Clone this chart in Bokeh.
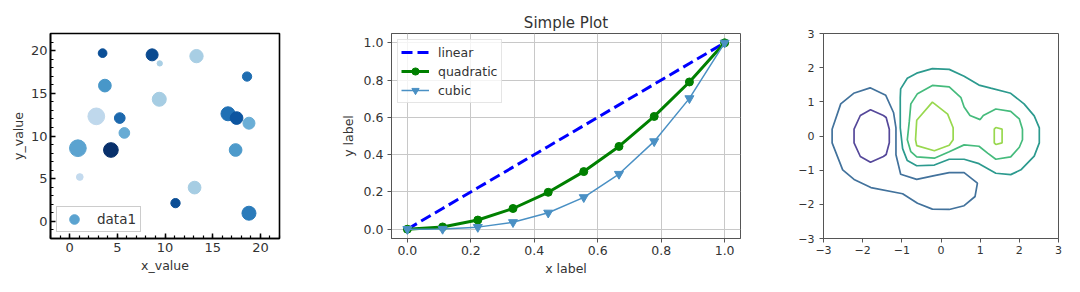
from bokeh.plotting import figure
from bokeh.layouts import row
from bokeh.models import (FixedTicker, Legend, LegendItem, PrintfTickFormatter, Range1d,
                          ColumnDataSource, CustomJSTickFormatter)
from bokeh.embed import file_html
from bokeh.resources import INLINE

FONT = "DejaVu Sans"
TXT = "#333333"

# ---------------- panel 1 data (scatter) ----------------
scatter_x = [3.46, 8.65, 9.45, 13.3, 18.6, 3.7, 9.4, 2.8, 5.26, 16.6,
             17.5, 18.8, 5.74, 0.87, 4.33, 17.4, 1.07, 13.1, 11.1, 18.8]
scatter_y = [19.7, 19.5, 18.5, 19.35, 16.96, 15.9, 14.3, 12.3, 12.1, 12.6,
             12.1, 11.5, 10.36, 8.57, 8.36, 8.36, 5.2, 3.96, 2.14, 0.96]
scatter_size = [8.7, 12, 5.3, 13.3, 9.3, 12.7, 14, 16.7, 10.7, 14,
                12.7, 12, 10.7, 16.7, 14.7, 12.7, 6.7, 12.7, 9.3, 14]
scatter_color = ["#0b4f97", "#0a4a90", "#a9cfe5", "#a8cee4", "#1f6db1",
                 "#4897c9", "#a6cde3", "#bfd8ec", "#1c68ad", "#2070b4",
                 "#0d55a0", "#6aaed6", "#67abd4", "#5ba3d0", "#08306b",
                 "#4d9acb", "#c3daee", "#a6cde3", "#0a4d95", "#2b7bba"]
scatter_ticks = [0, 5, 10, 15, 20]
scatter_minor = list(range(-2, 23))

# ---------------- panel 2 data (lines) ----------------
line_x = [0.0, 0.111, 0.222, 0.333, 0.444, 0.556, 0.667, 0.778, 0.889, 1.0]
linear_y = [0.0, 0.111, 0.222, 0.333, 0.444, 0.556, 0.667, 0.778, 0.889, 1.0]
quadratic_y = [0.0, 0.012, 0.049, 0.111, 0.198, 0.309, 0.444, 0.605, 0.790, 1.0]
cubic_y = [0.0, 0.001, 0.011, 0.037, 0.088, 0.171, 0.296, 0.471, 0.702, 1.0]
line_ticks = [0.0, 0.2, 0.4, 0.6, 0.8, 1.0]

# ---------------- panel 3 data (contour lines) ----------------
contour_xs = [
    [-1.8, -1.47, -1.4, -1.32, -1.32, -1.4, -1.47, -1.8, -2.06, -2.22, -2.22, -2.06],
    [-1.81, -1.41, -1.21, -1.15, -1.15, -1.03, -0.62, -0.17, 0.21, 0.59, 0.93, 0.87,
     0.59, 0.21, -0.22, -0.6, -0.98, -1.79, -2.22, -2.51, -2.78, -2.78, -2.56, -2.23],
    [-1.03, -0.86, -0.62, -0.22, 0.21, 0.59, 0.97, 1.27, 1.78, 2.12, 2.38, 2.51,
     2.51, 2.38, 2.04, 1.78, 1.4, 0.97, 0.59, 0.21, -0.17, -0.62, -0.86, -0.98,
     -1.04, -1.04],
    [-0.77, -0.6, -0.22, 0.21, 0.51, 0.59, 0.74, 1.0, 1.08, 1.4, 1.78, 2.0, 2.08,
     2.08, 2.0, 1.78, 1.4, 1.19, 0.97, 0.59, 0.21, -0.17, -0.62, -0.77, -0.86,
     -0.81],
    [-0.22, 0.17, 0.31, 0.31, 0.21, -0.17, -0.62, -0.65, -0.62],
    [1.36, 1.4, 1.56, 1.56, 1.4, 1.36],
]
contour_ys = [
    [0.77, 0.6, 0.54, 0.2, -0.2, -0.54, -0.6, -0.77, -0.6, -0.2, 0.2, 0.6],
    [1.41, 1.19, 0.68, 0.24, -0.55, -1.12, -1.27, -1.16, -1.07, -1.07, -1.38, -1.77,
     -2.04, -2.15, -2.14, -1.97, -1.69, -1.51, -1.27, -0.99, -0.2, 0.2, 0.94, 1.25],
    [1.38, 1.69, 1.84, 1.97, 1.95, 1.75, 1.49, 1.4, 1.25, 0.94, 0.59, 0.24,
     -0.2, -0.59, -0.99, -1.13, -1.09, -0.81, -0.68, -0.68, -0.85, -0.87, -0.72,
     -0.37, 0.24, 1.12],
    [0.94, 1.24, 1.48, 1.44, 1.12, 0.85, 0.6, 0.48, 0.6, 0.79, 0.72, 0.5, 0.2,
     -0.11, -0.33, -0.61, -0.68, -0.5, -0.3, -0.26, -0.46, -0.65, -0.61, -0.46,
     -0.11, 0.42],
    [0.99, 0.64, 0.24, -0.11, -0.27, -0.43, -0.28, -0.11, 0.46],
    [0.2, 0.25, 0.2, -0.2, -0.25, -0.2],
]
contour_colors = ["#55489a", "#42729c", "#2c9a8e", "#45bb7c", "#98d84e", "#98d84e"]
contour_ticks = [-3, -2, -1, 0, 1, 2, 3]


def style_text(p, size):
    p.axis.major_label_text_font = FONT
    p.axis.major_label_text_font_size = size
    p.axis.major_label_text_color = TXT
    p.axis.axis_label_text_font = FONT
    p.axis.axis_label_text_font_style = "normal"
    p.axis.axis_label_text_color = TXT


# ---------------- panel 1 ----------------
p1 = figure(width=330, height=292, x_range=Range1d(-2, 22), y_range=Range1d(-2, 22),
            output_backend="svg", toolbar_location=None,
            min_border_left=50, min_border_right=51, min_border_top=18, min_border_bottom=50)
p1.grid.visible = False
p1.outline_line_color = "black"
p1.outline_line_width = 1.6
src1 = ColumnDataSource(dict(x=scatter_x, y=scatter_y, s=scatter_size, c=scatter_color))
r1 = p1.scatter("x", "y", size="s", fill_color="c", line_color="c", source=src1)
for ax in (p1.xaxis[0], p1.yaxis[0]):
    ax.ticker = FixedTicker(ticks=scatter_ticks, minor_ticks=scatter_minor)
    ax.major_tick_in = 5
    ax.major_tick_out = 0
    ax.minor_tick_in = 3
    ax.minor_tick_out = 0
    ax.axis_line_color = "black"
    ax.axis_line_width = 1.6
    ax.major_tick_line_width = 1.5
    ax.minor_tick_line_width = 1.2
    ax.major_tick_line_color = "black"
    ax.minor_tick_line_color = "black"
style_text(p1, "13px")
p1.axis.axis_label_text_font_size = "12.5px"
p1.xaxis.axis_label = "x_value"
p1.yaxis.axis_label = "y_value"
p1.xaxis.major_label_standoff = 4
p1.yaxis.major_label_standoff = 3
p1.xaxis.axis_label_standoff = 3
p1.yaxis.axis_label_standoff = 2
leg1 = Legend(items=[LegendItem(label="data1", renderers=[r1], index=13)],
              location="bottom_left", margin=6, padding=dict(left=0, right=4, top=0, bottom=0),
              glyph_width=34, glyph_height=24, label_height=20, label_standoff=6,
              label_text_font=FONT, label_text_font_size="13.5px", label_text_color=TXT,
              border_line_color="#999999", border_line_width=1,
              background_fill_color="white", background_fill_alpha=0.8)
p1.add_layout(leg1)

# ---------------- panel 2 ----------------
p2 = figure(width=430, height=292, x_range=Range1d(-0.05, 1.05), y_range=Range1d(-0.05, 1.05),
            output_backend="svg", toolbar_location=None, title="Simple Plot",
            min_border_left=61, min_border_right=20, min_border_top=33, min_border_bottom=54)
p2.title.align = "center"
p2.title.text_font = FONT
p2.title.text_font_size = "15px"
p2.title.text_font_style = "normal"
p2.title.text_color = TXT
p2.title.standoff = 4
p2.outline_line_color = "#555555"
p2.outline_line_width = 1
p2.grid.grid_line_color = "#c8c8c8"
p2.grid.grid_line_width = 1
for ax in (p2.xaxis[0], p2.yaxis[0]):
    ax.ticker = FixedTicker(ticks=line_ticks, minor_ticks=[])
    ax.formatter = PrintfTickFormatter(format="%.1f")
    ax.major_tick_in = 0
    ax.major_tick_out = 4
    ax.axis_line_color = "#555555"
    ax.major_tick_line_color = "#555555"
style_text(p2, "12.5px")
p2.axis.axis_label_text_font_size = "12.5px"
p2.xaxis.axis_label = "x label"
p2.yaxis.axis_label = "y label"
p2.xaxis.major_label_standoff = 3
p2.yaxis.major_label_standoff = 4
p2.xaxis.axis_label_standoff = 3
p2.yaxis.axis_label_standoff = 5

r_lin = p2.line(line_x, linear_y, line_color="blue", line_width=3, line_dash="11 5")
r_q_l = p2.line(line_x, quadratic_y, line_color="green", line_width=3)
r_q_m = p2.scatter(line_x, quadratic_y, size=8, fill_color="green", line_color="green")
r_c_l = p2.line(line_x, cubic_y, line_color="#4a90c4", line_width=1.5)
r_c_m = p2.scatter(line_x, cubic_y, marker="inverted_triangle", size=9,
                   fill_color="#4a90c4", line_color="#4a90c4")
leg2 = Legend(items=[LegendItem(label="linear", renderers=[r_lin]),
                     LegendItem(label="quadratic", renderers=[r_q_l, r_q_m]),
                     LegendItem(label="cubic", renderers=[r_c_l, r_c_m])],
              location="top_left", margin=6, padding=3, spacing=1,
              glyph_width=28, glyph_height=18, label_height=18, label_standoff=9,
              label_text_font=FONT, label_text_font_size="12.5px", label_text_color=TXT,
              border_line_color="#cccccc", background_fill_color="white",
              background_fill_alpha=0.8)
p2.add_layout(leg2)

# ---------------- panel 3 ----------------
p3 = figure(width=320, height=292, x_range=Range1d(-3, 3), y_range=Range1d(-3, 3),
            output_backend="svg", toolbar_location=None,
            min_border_left=63, min_border_right=22, min_border_top=28, min_border_bottom=35)
p3.grid.visible = False
p3.outline_line_color = "#555555"
p3.outline_line_width = 1
minus_fmt = CustomJSTickFormatter(code="return tick < 0 ? '\\u2212' + String(-tick) : String(tick);")
for ax in (p3.xaxis[0], p3.yaxis[0]):
    ax.ticker = FixedTicker(ticks=contour_ticks, minor_ticks=[])
    ax.formatter = minus_fmt
    ax.major_tick_in = 0
    ax.major_tick_out = 4
    ax.axis_line_color = "#555555"
    ax.major_tick_line_color = "#555555"
style_text(p3, "11px")
p3.xaxis.major_label_standoff = 3
p3.yaxis.major_label_standoff = 5
p3.patches(contour_xs, contour_ys, fill_color=None, line_color=contour_colors, line_width=1.7)

layout = row(p1, p2, p3)
open("out.html", "w").write(file_html(layout, INLINE))
